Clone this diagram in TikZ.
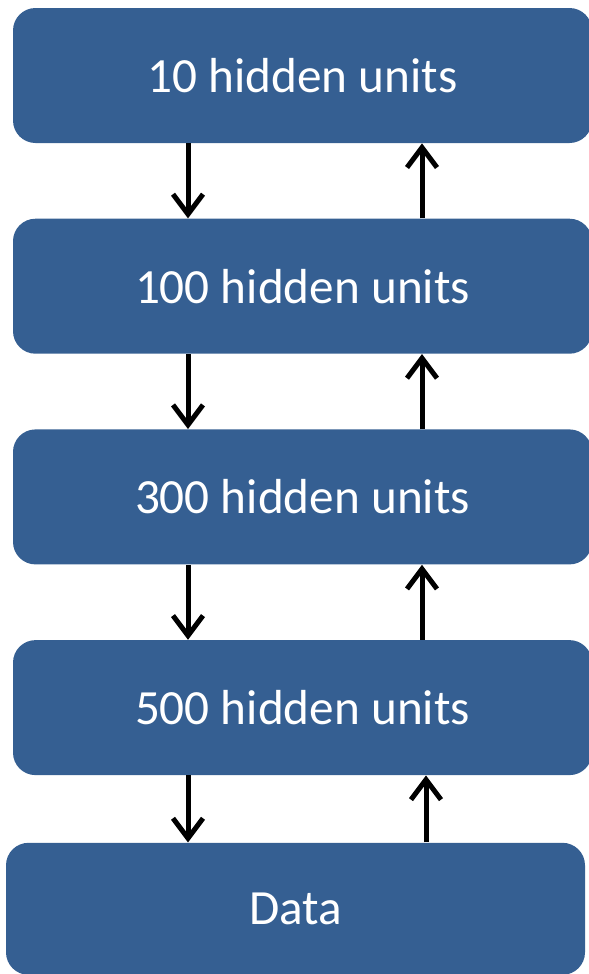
\documentclass[tikz,border=0pt]{standalone}
\usepackage{fontspec}
\setmainfont{Carlito}
\usetikzlibrary{positioning, arrows.meta}
\definecolor{layerblue}{HTML}{355F92}

\begin{document}
\begin{tikzpicture}[
    node distance=1.5cm,
    every node/.style={font=\fontsize{28}{32}\selectfont},
    layer/.style={rectangle, fill=layerblue, text=white, rounded corners=0.45cm,
                  minimum width=11.58cm, minimum height=2.7cm, inner sep=0pt},
    arr/.style={-{Straight Barb[length=0.4cm, width=0.6cm]}, line width=0.1cm}
]
    \useasboundingbox (0,0) rectangle (11.78,-19.48);

    \node[layer] (h10)  at (6.05,-1.51) {10 hidden units};
    \node[layer, below=of h10]  (h100) {100 hidden units};
    \node[layer, below=of h100] (h300) {300 hidden units};
    \node[layer, below=of h300] (h500) {500 hidden units};
    \node[layer, below=1.34cm of h500, xshift=-0.14cm, minimum height=2.64cm] (data) {Data};

    % top-down and bottom-up passes
    \foreach \up/\lo in {h10/h100, h100/h300, h300/h500} {
        \draw[arr] ([xshift=-2.29cm]\up.south) -- ([xshift=-2.29cm]\up.south |- \lo.north);
        \draw[arr] ([xshift=2.39cm]\lo.north) -- ([xshift=2.39cm]\lo.north |- \up.south);
    }
    \draw[arr] ([xshift=-2.29cm]h500.south) -- ([xshift=-2.29cm]h500.south |- data.north);
    \draw[arr] ([xshift=2.47cm]h500.south |- data.north) -- ([xshift=2.47cm]h500.south);
\end{tikzpicture}
\end{document}
